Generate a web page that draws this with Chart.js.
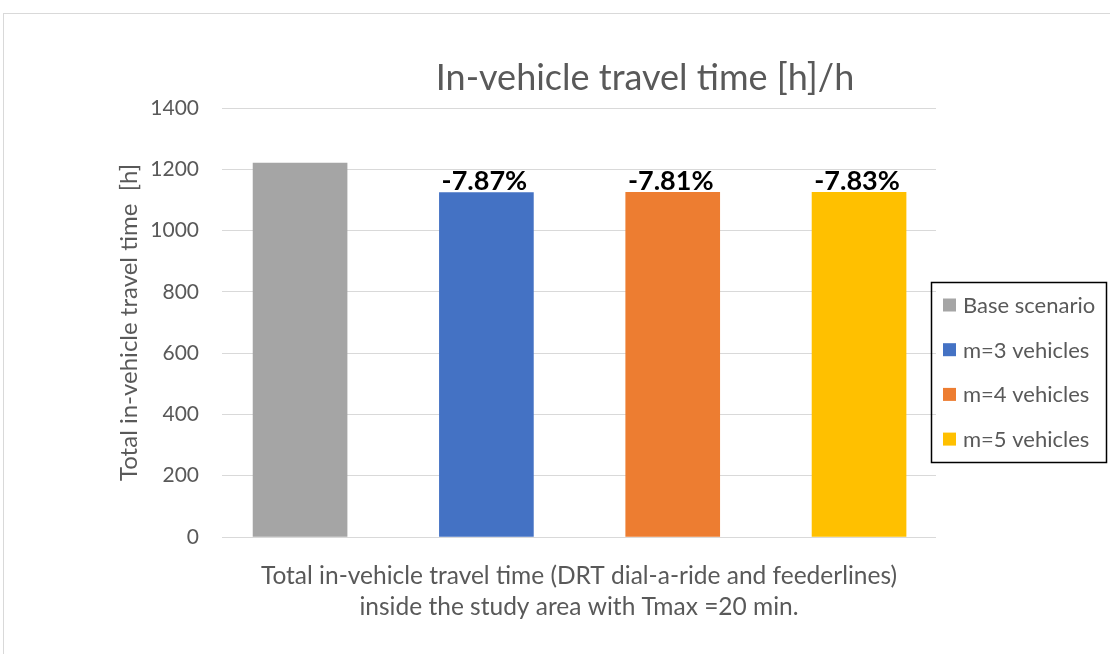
<!DOCTYPE html>
<html>
<head>
<meta charset="utf-8">
<script src="https://cdn.jsdelivr.net/npm/chart.js@4.4.1/dist/chart.umd.min.js"></script>
<style>
  html, body { margin: 0; padding: 0; background: #fff; overflow: hidden; }
  #wrap { position: relative; width: 1110px; height: 654px; }
  #frame { position: absolute; left: 3px; top: 13px; width: 1300px; height: 900px;
           border: 1px solid #d9d9d9; box-sizing: border-box; }
  #c { position: absolute; left: 0; top: 0; }
</style>
</head>
<body>
<div id="wrap">
  <div id="frame"></div>
  <canvas id="c" width="1110" height="654"></canvas>
</div>
<script>
// Scenario series (one bar each)
const seriesNames  = ['Base scenario', 'm=3 vehicles', 'm=4 vehicles', 'm=5 vehicles'];
const seriesValues = [1220, 1124.0, 1124.7, 1124.5];
// Change relative to the base scenario, shown above each bar
const changeLabels = ['', '-7.87%', '-7.81%', '-7.83%'];
const seriesColors = ['#A5A5A5', '#4472C4', '#ED7D31', '#FFC000'];

const chartTitle = 'In-vehicle travel time [h]/h';
const yAxisTitle = 'Total in-vehicle travel time  [h]';
const categoryLines = [
  'Total in-vehicle travel time (DRT dial-a-ride and feederlines)',
  'inside the study area with Tmax =20 min.'
];
const yMin = 0, yMax = 1400, yStep = 200;

const TEXT = '#595959';
const FONT = 'Lato';

const datasets = seriesNames.map((name, i) => ({
  label: name,
  data: [{ x: i, y: seriesValues[i] }],
  backgroundColor: seriesColors[i],
  barThickness: 94,
  grouped: false
}));

// Title, value labels and the boxed legend
const decorations = {
  id: 'decorations',
  afterDatasetsDraw(chart) {
    const ctx = chart.ctx;
    ctx.save();
    ctx.fillStyle = '#000';
    ctx.font = `bold 27px ${FONT}`;
    ctx.textAlign = 'center';
    ctx.textBaseline = 'bottom';
    chart.data.datasets.forEach((ds, i) => {
      const txt = changeLabels[i];
      if (!txt) return;
      const el = chart.getDatasetMeta(i).data[0];
      ctx.fillText(txt, el.x - 2, el.y + 2);
    });
    ctx.restore();
  },
  afterDraw(chart) {
    const ctx = chart.ctx;
    ctx.save();
    // chart title
    ctx.fillStyle = TEXT;
    ctx.font = `36px ${FONT}`;
    ctx.textAlign = 'center';
    ctx.textBaseline = 'middle';
    ctx.fillText(chartTitle, 645, 78);

    // legend box
    const lx = 931, ly = 282, lw = 175, lh = 180;
    ctx.strokeStyle = '#000';
    ctx.lineWidth = 1.5;
    ctx.strokeRect(lx + 0.5, ly + 0.5, lw, lh);
    ctx.font = `22px ${FONT}`;
    ctx.textAlign = 'left';
    ctx.textBaseline = 'middle';
    chart.data.datasets.forEach((ds, i) => {
      const cy = ly + 23 + i * 44.7;
      ctx.fillStyle = ds.backgroundColor;
      ctx.fillRect(lx + 12, cy - 6.5, 13, 13);
      ctx.fillStyle = TEXT;
      ctx.fillText(ds.label, lx + 32, cy + 1);
    });
    ctx.restore();
  }
};

new Chart(document.getElementById('c'), {
  type: 'bar',
  data: { datasets },
  options: {
    responsive: false,
    animation: false,
    devicePixelRatio: 1,
    layout: { padding: { left: 115, top: 108, right: 174, bottom: 0 } },
    plugins: { legend: { display: false }, tooltip: { enabled: false } },
    scales: {
      x: {
        type: 'linear',
        offset: false,
        min: -0.419,
        max: 3.413,
        ticks: { display: false },
        grid: { display: false },
        border: { display: false },
        title: {
          display: true,
          text: categoryLines,
          color: TEXT,
          font: { family: FONT, size: 24.5, lineHeight: 1.25 },
          padding: { top: 0, bottom: 32 }
        },
        afterFit(scale) { scale.height = 117; }
      },
      y: {
        min: yMin,
        max: yMax,
        ticks: {
          stepSize: yStep,
          color: TEXT,
          font: { family: FONT, size: 21 },
          padding: 23,
          callback: (v) => String(v)
        },
        grid: { color: '#d9d9d9', lineWidth: 1, drawTicks: false },
        border: { display: false },
        title: {
          display: true,
          text: yAxisTitle,
          color: TEXT,
          font: { family: FONT, size: 24 },
          padding: 0
        },
        afterFit(scale) { scale.width = 107; }
      }
    }
  },
  plugins: [decorations]
});
</script>
</body>
</html>
